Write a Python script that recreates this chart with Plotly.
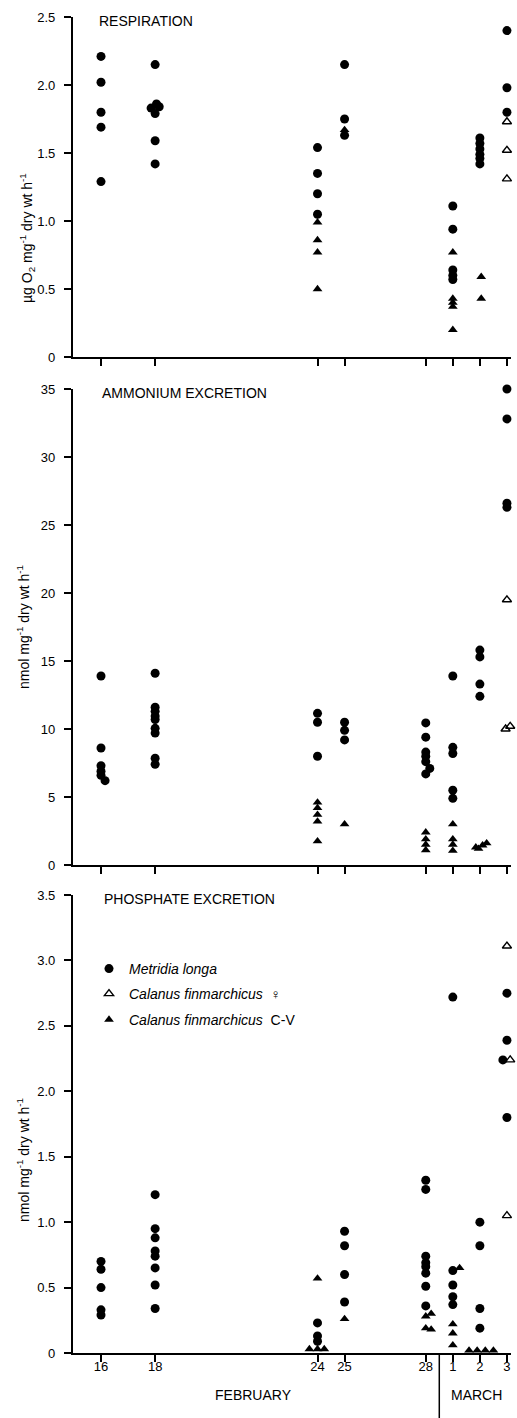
import plotly.graph_objects as go

# ---------------- DATA ----------------
# x positions are day numbers (Feb 16 = 16 ... Feb 28 = 28, Mar 1 = 29, Mar 2 = 30, Mar 3 = 31)
tick_days = [16, 18, 24, 25, 28, 29, 30, 31]
tick_labels = ["16", "18", "24", "25", "28", "1", "2", "3"]

# Respiration (ug O2 mg-1 dry wt h-1)
resp_met_x = [16, 16, 16, 16, 16,
              18, 17.85, 18.15, 18.05, 18, 18, 18,
              24, 24, 24, 24,
              25, 25, 25,
              29, 29, 29, 29, 29,
              30, 30, 30, 30, 30, 30,
              31, 31, 31]
resp_met_y = [2.21, 2.02, 1.80, 1.69, 1.29,
              2.15, 1.83, 1.84, 1.86, 1.79, 1.59, 1.42,
              1.54, 1.35, 1.20, 1.05,
              2.15, 1.75, 1.63,
              1.11, 0.94, 0.64, 0.60, 0.57,
              1.61, 1.57, 1.53, 1.49, 1.46, 1.42,
              2.40, 1.98, 1.80]
resp_fem_x = [31, 31, 31]
resp_fem_y = [1.73, 1.52, 1.31]
resp_cv_x = [24, 24, 24, 24, 25, 29, 29, 29, 29, 29, 30.05, 30.05]
resp_cv_y = [0.99, 0.86, 0.77, 0.50, 1.67, 0.77, 0.43, 0.40, 0.37, 0.20, 0.59, 0.43]

# Ammonium excretion (nmol mg-1 dry wt h-1)
amm_met_x = [16, 16, 16, 16, 16, 16.15,
             18, 18, 18, 18, 18, 18, 18, 18, 18,
             24, 24, 24,
             25, 25, 25,
             28, 28, 28, 28, 28, 28.15, 28,
             29, 29, 29, 29, 29,
             30, 30, 30, 30,
             31, 31, 31, 31]
amm_met_y = [13.9, 8.6, 7.3, 6.9, 6.6, 6.2,
             14.1, 11.6, 11.3, 10.95, 10.7, 10.05, 9.7, 7.85, 7.4,
             11.15, 10.5, 8.0,
             10.5, 9.9, 9.2,
             10.45, 9.4, 8.3, 8.0, 7.6, 7.1, 6.7,
             13.9, 8.65, 8.2, 5.5, 4.9,
             15.8, 15.3, 13.3, 12.4,
             35.0, 32.8, 26.6, 26.3]
amm_fem_x = [31, 30.95, 31.12]
amm_fem_y = [19.5, 10.0, 10.2]
amm_cv_x = [24, 24, 24, 24, 24,
            25,
            28, 28, 28, 28,
            29, 29, 29, 29,
            29.85, 29.95, 30.1, 30.25]
amm_cv_y = [4.6, 4.2, 3.7, 3.2, 1.75,
            3.0,
            2.4, 1.9, 1.5, 1.1,
            3.0, 1.9, 1.5, 1.05,
            1.3, 1.2, 1.45, 1.6]

# Phosphate excretion (nmol mg-1 dry wt h-1)
pho_met_x = [16, 16, 16, 16, 16,
             18, 18, 18, 18, 18, 18, 18, 18,
             24, 24, 24,
             25, 25, 25, 25,
             28, 28, 28, 28, 28, 28, 28, 28,
             29, 29, 29, 29, 29,
             30, 30, 30, 30,
             31, 31, 30.85, 31]
pho_met_y = [0.70, 0.64, 0.50, 0.33, 0.29,
             1.21, 0.95, 0.88, 0.78, 0.74, 0.65, 0.52, 0.34,
             0.23, 0.13, 0.09,
             0.93, 0.82, 0.60, 0.39,
             1.32, 1.25, 0.74, 0.69, 0.66, 0.61, 0.51, 0.36,
             2.72, 0.63, 0.52, 0.43, 0.37,
             1.00, 0.82, 0.34, 0.19,
             2.75, 2.39, 2.24, 1.80]
pho_fem_x = [31, 31.12, 31]
pho_fem_y = [3.11, 2.24, 1.05]
pho_cv_x = [24, 23.7, 24, 24.25,
            25,
            28.2, 28, 28, 28.2,
            29.25, 29, 29, 29,
            29.6, 29.9, 30.2, 30.5]
pho_cv_y = [0.57, 0.03, 0.03, 0.03,
            0.26,
            0.30, 0.28, 0.19, 0.18,
            0.65, 0.22, 0.15, 0.06,
            0.02, 0.02, 0.02, 0.02]

resp_ticks = [0, 0.5, 1.0, 1.5, 2.0, 2.5]
resp_ticktext = ["0", "0.5", "1.0", "1.5", "2.0", "2.5"]
amm_ticks = [0, 5, 10, 15, 20, 25, 30, 35]
amm_ticktext = ["0", "5", "10", "15", "20", "25", "30", "35"]
pho_ticks = [0, 0.5, 1.0, 1.5, 2.0, 2.5, 3.0, 3.5]
pho_ticktext = ["0", "0.5", "1.0", "1.5", "2.0", "2.5", "3.0", "3.5"]

names = ["<i>Metridia longa</i>", "<i>Calanus finmarchicus</i>  ♀", "<i>Calanus finmarchicus</i>  C-V"]
panel_titles = ["RESPIRATION", "AMMONIUM EXCRETION", "PHOSPHATE EXCRETION"]
y_titles = ["µg O<sub>2</sub> mg<sup>-1</sup> dry wt h<sup>-1</sup>",
            "nmol mg<sup>-1</sup> dry wt h<sup>-1</sup>",
            "nmol mg<sup>-1</sup> dry wt h<sup>-1</sup>"]

# ---------------- FIGURE ----------------
W, H = 517, 1418
FONT = "Liberation Sans, Arial, sans-serif"


def py(px):
    return 1 - px / H


fig = go.Figure()

panels = [
    ("x", "y", resp_met_x, resp_met_y, resp_fem_x, resp_fem_y, resp_cv_x, resp_cv_y, False),
    ("x2", "y2", amm_met_x, amm_met_y, amm_fem_x, amm_fem_y, amm_cv_x, amm_cv_y, False),
    ("x3", "y3", pho_met_x, pho_met_y, pho_fem_x, pho_fem_y, pho_cv_x, pho_cv_y, True),
]

for xa, ya, mx, my, fx, fy, cx, cy, leg in panels:
    fig.add_trace(go.Scatter(x=mx, y=my, xaxis=xa, yaxis=ya, mode="markers", name=names[0],
                             showlegend=leg, legend="legend", cliponaxis=False,
                             marker=dict(symbol="circle", size=9, color="black", line=dict(width=0))))
    fig.add_trace(go.Scatter(x=fx, y=fy, xaxis=xa, yaxis=ya, mode="markers", name=names[1],
                             showlegend=leg, legend="legend2", cliponaxis=False,
                             marker=dict(symbol="triangle-up-open", size=8, color="black",
                                         line=dict(width=1.4, color="black"))))
    fig.add_trace(go.Scatter(x=cx, y=cy, xaxis=xa, yaxis=ya, mode="markers", name=names[2],
                             showlegend=leg, legend="legend3", cliponaxis=False,
                             marker=dict(symbol="triangle-up", size=8.5, color="black", line=dict(width=0))))

xdom = [72.6 / W, 511.0 / W]
xrange_ = [14.95, 31.15]
ydoms = [[py(357), py(17)], [py(865), py(389)], [py(1353), py(895)]]

axis_common = dict(showline=True, linecolor="black", linewidth=1.5, ticks="outside",
                   tickcolor="black", tickwidth=1.5, showgrid=False, zeroline=False,
                   automargin=False, tickfont=dict(family=FONT, size=13, color="black"))

layout_axes = {}
yinfo = [(resp_ticks, resp_ticktext, [0, 2.5]),
         (amm_ticks, amm_ticktext, [0, 35]),
         (pho_ticks, pho_ticktext, [0, 3.5])]
for i in range(3):
    sfx = "" if i == 0 else str(i + 1)
    layout_axes["xaxis" + sfx] = dict(axis_common, domain=xdom, range=xrange_,
                                      anchor="y" + sfx, tickmode="array",
                                      tickvals=tick_days, ticktext=tick_labels,
                                      showticklabels=(i == 2), ticklen=7,
                                      ticklabelstandoff=-6)
    tv, tt, rg = yinfo[i]
    layout_axes["yaxis" + sfx] = dict(axis_common, domain=ydoms[i], range=rg,
                                      anchor="x" + sfx, tickmode="array",
                                      tickvals=tv, ticktext=tt, ticklen=7,
                                      ticklabelstandoff=6)

annotations = []
title_pos = [(97, 21), (100, 393), (102, 899)]
for t, (ax_, ay_) in zip(panel_titles, title_pos):
    annotations.append(dict(text=t, x=ax_ / W, y=py(ay_), xref="paper", yref="paper",
                            xanchor="left", yanchor="middle", showarrow=False,
                            font=dict(family=FONT, size=14, color="black")))
ytitle_pos = [(27, 238, 14), (23, 627, 14), (23, 1160, 14)]
for t, (ax_, ay_, fs) in zip(y_titles, ytitle_pos):
    annotations.append(dict(text=t, x=ax_ / W, y=py(ay_), xref="paper", yref="paper",
                            xanchor="center", yanchor="middle", showarrow=False, textangle=-90,
                            font=dict(family=FONT, size=fs, color="black")))
annotations.append(dict(text="FEBRUARY", x=253 / W, y=py(1395), xref="paper", yref="paper",
                        xanchor="center", yanchor="middle", showarrow=False,
                        font=dict(family=FONT, size=14, color="black")))
annotations.append(dict(text="MARCH", x=476 / W, y=py(1395), xref="paper", yref="paper",
                        xanchor="center", yanchor="middle", showarrow=False,
                        font=dict(family=FONT, size=14, color="black")))

shapes = [dict(type="line", xref="x3", yref="paper", x0=28.5, x1=28.5, y0=0, y1=py(1353),
               line=dict(color="black", width=1.5))]

leg_common = dict(xanchor="left", yanchor="top", bgcolor="rgba(0,0,0,0)", borderwidth=0,
                  font=dict(family=FONT, size=14, color="black"), tracegroupgap=0)
leg_x = 89 / W
fig.update_layout(
    width=W, height=H,
    margin=dict(l=0, r=0, t=0, b=0),
    paper_bgcolor="white", plot_bgcolor="white",
    showlegend=True,
    legend=dict(leg_common, x=leg_x, y=py(953)),
    legend2=dict(leg_common, x=leg_x, y=py(978)),
    legend3=dict(leg_common, x=leg_x, y=py(1004)),
    annotations=annotations,
    shapes=shapes,
    **layout_axes,
)

fig.write_html("out.html")
